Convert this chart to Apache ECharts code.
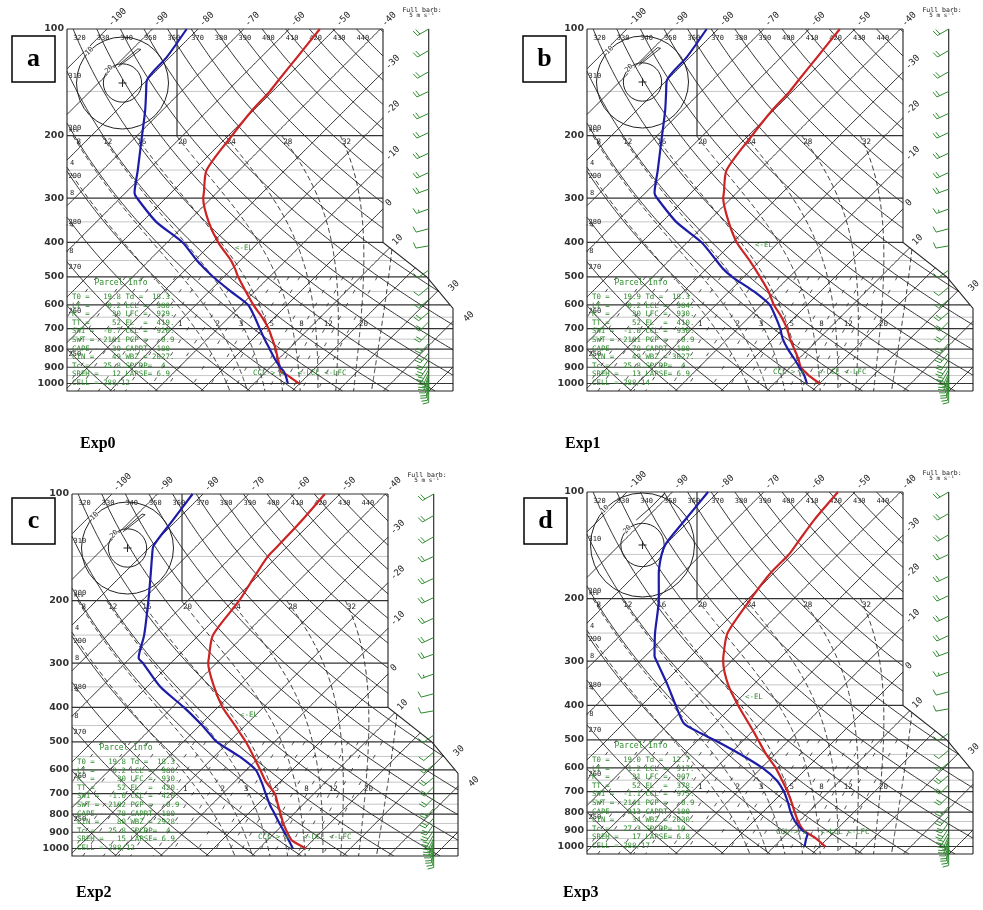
<!DOCTYPE html>
<html><head><meta charset="utf-8">
<script src="https://cdn.jsdelivr.net/npm/echarts@6.0.0/dist/echarts.min.js"></script>
<style>html,body{margin:0;padding:0;background:#fff}#chart{width:983px;height:910px}</style>
</head><body><div id="chart"></div>
<script>
// ---------------- DATA ----------------
const levels = [100,120,140,150,170,200,250,290,300,350,400,450,475,500,550,600,650,700,750,800,850,900,925,950,1000];
const tempA = [-53.3,-52.1,-51.1,-50.6,-50.3,-49.2,-47.2,-42.8,-41.8,-35.4,-28.8,-22.0,-19.3,-16.9,-12.0,-7.4,-2.8,1.1,4.3,7.2,9.7,12.1,13.2,15.7,19.8];
const dewA  = [-82.5,-80.7,-79.9,-77.7,-73.7,-68.9,-62.3,-58.0,-56.3,-46.9,-36.6,-29.5,-25.9,-22.4,-15.3,-8.6,-4.4,-0.8,2.6,5.9,9.0,12.2,13.9,15.2,17.4];
const tempB = [-53.3,-52.1,-51.1,-50.6,-50.3,-49.2,-47.2,-42.8,-41.8,-35.4,-29.1,-22.3,-19.3,-16.5,-11.4,-7.3,-2.9,0.8,3.8,6.9,9.8,12.3,14.1,15.9,20.0];
const dewB  = [-82.5,-80.7,-79.9,-77.7,-73.7,-68.9,-62.3,-58.0,-56.3,-46.9,-36.8,-29.6,-26.3,-22.6,-14.6,-8.2,-4.2,-0.7,2.2,5.5,8.9,12.0,13.5,14.9,17.2];
const tempC = [-53.3,-52.5,-52.2,-52.1,-50.7,-48.7,-46.9,-42.8,-41.8,-35.3,-28.9,-22.2,-19.2,-16.3,-11.4,-7.0,-3.0,1.4,4.4,7.2,9.8,12.6,14.0,15.5,20.3];
const dewC  = [-82.3,-80.8,-79.5,-77.5,-73.6,-68.6,-62.0,-58.2,-56.1,-47.1,-37.4,-29.4,-26.0,-22.7,-14.5,-8.0,-4.0,-0.6,2.6,5.9,9.0,12.0,13.4,14.8,17.4];
const tempD = [-53.7,-52.8,-51.4,-50.8,-50.7,-49.4,-47.0,-42.9,-41.8,-35.5,-28.8,-22.5,-19.6,-16.9,-11.9,-6.9,-2.8,0.9,4.1,7.0,9.8,12.9,15.2,17.5,21.2];
const dewD  = [-82.2,-81.1,-80.1,-78.7,-75.1,-69.6,-62.9,-58.0,-56.4,-48.8,-42.5,-36.7,-31.8,-26.6,-17.5,-9.8,-4.0,0.1,3.3,6.1,9.1,12.6,14.7,15.3,16.7];

const pressureTicks = [100,200,300,400,500,600,700,800,900,1000];
const isothermTopLabels = [-100,-90,-80,-70,-60,-50,-40];
const isothermSideLabels = [-30,-20,-10,0,10,30,40];
const thetaTopLabels = [320,330,340,350,360,370,380,390,400,410,420,430,440];
const thetaLeftLabels = [250,260,270,280,290,300,310];
const moistLabels = [8,12,16,20,24,28,32];
const mixLabels = [1,2,3,5,8,12,20];

const barbP   = [100,115,132,150,173,196,224,254,283,322,366,409,479,535,580,630,670,720,770,820,855,890,915,935,950,965,980,995,1010,1025,1040];
const barbDir = [240,240,240,245,245,245,245,245,250,250,255,260,235,230,230,230,225,225,220,220,215,215,210,205,200,200,195,190,190,185,180];
const barbSpd = [10,10,10,12,12,12,12,10,10,8,5,5,5,7,8,10,10,10,10,10,10,10,10,10,8,8,8,7,6,5,5];

const hodoUA = [-2.2,9.6,8.0,-1.5], hodoVA = [8.5,17.5,17.8,9.8];
const hodoUB = [-2.0,9.4,7.8,-1.3], hodoVB = [8.6,17.6,17.9,9.9];
const hodoUC = [-2.4,9.2,7.6,-1.7], hodoVC = [8.4,17.4,17.7,9.7];
const hodoUD = [-2.9,4.0,10.2,9.0], hodoVD = [11.5,17.5,23.9,22.0];

const parcelA = ["T0 =   19.8 Td =  18.3","LI =    0.2 LCL =  980.","K  =     30 LFC =  929.","TT =     52 EL  =  419.","SWI =  -0.7 CCL =  920.","SWT =  2181 PCP =   0.9","CAPE -   39 CAPRT- 180","CIN =    49 WBZ = 2027.","Tc =   25.8 SPCRP=  4.","SREH =   12 LAPSE= 6.9","CELL = 288/12"];
const parcelB = ["T0 =   19.9 Td =  18.3","LI =    0.2 LCL =  984.","K  =     30 LFC =  930.","TT =     52 EL  =  410.","SWI =  -1.0 CCL =  930.","SWT =  2181 PCP =   0.9","CAPE -   78 CAPRT- 180","CIN =    49 WBZ = 3027.","Tc =   25.8 SPCRP=  4.","SREH =   13 LAPSE= 6.9","CELL = 288/14"];
const parcelC = ["T0 =   19.8 Td =  18.3","LI =    0.2 LCL =  980.","K  =     30 LFC =  930.","TT =     52 EL  =  420.","SWI =  -1.0 CCL =  420.","SWT =  2182 PCP =   0.9","CAPE -   78 CAPRT- 180","CIN =    80 WBZ = 2928.","Tc =   25.8 SPCRP=  4.","SREH =   15 LAPSE= 6.9","CELL = 288/12"];
const parcelD = ["T0 =   19.0 Td =  12.7","LI =    1.2 LCL =  917.","K  =     31 LFC =  907.","TT =     52 EL  =  378.","SWI =  -1.1 CCL =  975.","SWT =  2141 PCP =   0.9","CAPE -  313 CAPRT- 180","CIN =    34 WBZ = 2030.","Tc =   27.3 SPCRP= 10.","SREH =   17 LAPSE= 6.8","CELL = 288/17"];

// ---------------- GEOMETRY ----------------
const PX_PER_C = 4.56, PX_PER_LN = 153.9;
const K = PX_PER_LN / PX_PER_C;
const W = 386, H = 362, X0 = 134;
const XMIN = -X0 / PX_PER_C, XMAX = (W - X0) / PX_PER_C;
const BOUND = [[316,0],[316,213.4],[360,248],[386,279.3],[386,362]];
const STAFF_X = (361.7 - X0) / PX_PER_C;
const GREEN = '#2f8a2f';
const MONO = '"DejaVu Sans Mono", monospace';

function skewX(T, p) { return T + K * Math.log(1050 / p); }
function toRel(X, p) { return [X0 + PX_PER_C * X, PX_PER_LN * Math.log(p / 100)]; }
function toData(rx, ry) { return [(rx - X0) / PX_PER_C, 100 * Math.exp(ry / PX_PER_LN)]; }
function boundAtY(ry) {
  if (ry <= BOUND[0][1]) return BOUND[0][0];
  for (let i = 0; i < BOUND.length - 1; i++) {
    const a = BOUND[i], b = BOUND[i + 1];
    if (ry <= b[1]) return a[0] + (b[0] - a[0]) * (ry - a[1]) / (b[1] - a[1]);
  }
  return BOUND[BOUND.length - 1][0];
}
function inside(r) { return r[0] >= -0.01 && r[1] >= -0.01 && r[1] <= H + 0.01 && r[0] <= boundAtY(r[1]) + 0.01; }
function edgePt(o, i) { let a = o, b = i; for (let k = 0; k < 22; k++) { const m = [(a[0]+b[0])/2, (a[1]+b[1])/2]; if (inside(m)) b = m; else a = m; } return b; }
function clipPolyline(pts) {
  const rel = pts.map(d => toRel(d[0], d[1]));
  const dense = [];
  for (let i = 0; i < rel.length - 1; i++) {
    const a = rel[i], b = rel[i + 1];
    const n = Math.max(1, Math.ceil(Math.hypot(b[0]-a[0], b[1]-a[1]) / 3));
    for (let k = 0; k < n; k++) dense.push([a[0] + (b[0]-a[0]) * k / n, a[1] + (b[1]-a[1]) * k / n]);
  }
  dense.push(rel[rel.length - 1]);
  const out = []; let cur = null;
  for (let i = 0; i < dense.length; i++) {
    const pt = dense[i];
    if (inside(pt)) {
      if (!cur) { cur = []; if (i > 0) cur.push(edgePt(dense[i-1], pt)); }
      cur.push(pt);
    } else if (cur) { cur.push(edgePt(pt, dense[i-1])); out.push(cur); cur = null; }
  }
  if (cur) out.push(cur);
  return out.filter(l => l.length > 1).map(l => l.map(r => toData(r[0], r[1])));
}
function rightX(p) { return (boundAtY(PX_PER_LN * Math.log(p / 100)) - X0) / PX_PER_C; }

// thermodynamics for the guide lines
function dryT(theta, p) { return theta * Math.pow(p / 1000, 0.2857) - 273.15; }
function dTdp(Tk, p) {
  const Rd = 287.04, cp = 1005.7, Lv = 2.501e6, eps = 0.622;
  const Tc = Tk - 273.15;
  const e = 6.112 * Math.exp(17.67 * Tc / (Tc + 243.5));
  const rs = eps * e / (p - e);
  return ((Rd * Tk + Lv * rs) / p) / (cp + Lv * Lv * rs * eps / (Rd * Tk * Tk));
}
function moistLine(tw) {
  let Td = tw + 273.15, pd = 1000;
  while (pd < 1050) { const dp = Math.min(5, 1050 - pd); Td += dTdp(Td, pd) * dp; pd += dp; }
  const pts = [[skewX(Td - 273.15, 1050), 1050]];
  let T = tw + 273.15, p = 1000;
  pts.push([skewX(T - 273.15, p), p]);
  while (p > 200) {
    const dp = -Math.min(4, p - 200);
    const k1 = dTdp(T, p), k2 = dTdp(T + k1 * dp, p + dp);
    T += 0.5 * (k1 + k2) * dp; p += dp;
    pts.push([skewX(T - 273.15, p), p]);
  }
  return pts;
}
function mixTd(w, p) { const e = w * p / (622 + w); const a = Math.log(e / 6.112); return 243.5 * a / (17.67 - a); }

// ---------------- GUIDE GEOMETRY (shared) ----------------
const isoLines = [], dryLines = [], moistLines = [], mixLines = [];
for (let T = -110; T <= 60; T += 10) clipPolyline([[skewX(T, 1050), 1050], [skewX(T, 100), 100]]).forEach(l => isoLines.push(l));
for (let th = 230; th <= 460; th += 10) {
  const pts = []; for (let p = 100; p <= 1050; p += 10) pts.push([skewX(dryT(th, p), p), p]);
  clipPolyline(pts).forEach(l => dryLines.push(l));
}
const moistEnds = {};
[4,8,12,16,20,24,28,32,36].forEach(tw => {
  const pts = moistLine(tw); moistEnds[tw] = pts[pts.length - 1];
  clipPolyline(pts.slice().reverse()).forEach(l => moistLines.push(l));
});
[0.1,0.2,0.3,0.4,0.6,0.8,1,1.5,2,3,4,5,6,8,10,12,14,16,20].forEach(w => {
  const pts = []; for (let p = 500; p <= 1050; p += 25) pts.push([skewX(mixTd(w, p), p), p]);
  clipPolyline(pts).forEach(l => mixLines.push(l));
});
const lightH = [], darkH = [];
for (let p = 150; p <= 950; p += 100) lightH.push([[XMIN, p], [rightX(p), p]]);
for (let p = 100; p <= 1000; p += 100) darkH.push([[XMIN, p], [rightX(p), p]]);
const frame = [
  [[XMIN, 100], [XMIN, 1050], [XMAX, 1050]],
  BOUND.map(b => toData(b[0], b[1])),
  [[toData(110, 0)[0], 100], [toData(110, 0)[0], 200]],
  [[STAFF_X, 100], [STAFF_X, 1050]]
];

// labels (rel pixel positions derived from the guide geometry)
function crossBoundary(c) {
  for (let i = 0; i < BOUND.length - 1; i++) {
    const a = BOUND[i], b = BOUND[i+1], ca = a[0]+a[1], cb = b[0]+b[1];
    if (c >= ca && c <= cb) { const t = (c - ca) / (cb - ca); return [a[0] + (b[0]-a[0]) * t, a[1] + (b[1]-a[1]) * t]; }
  }
  return null;
}
const baseLabels = [];
const SMALLB = 'bold 9.5px "DejaVu Sans"';
pressureTicks.forEach(p => { const r = toRel(XMIN, p); baseLabels.push({rx: -3, ry: r[1], text: String(p), align: 'right', font: SMALLB, color: '#333'}); });
isothermTopLabels.forEach(T => { const r = toRel(skewX(T, 100), 100); baseLabels.push({rx: r[0] + 3, ry: -4, text: String(T), rot: 45, font: '9px ' + MONO}); });
isothermSideLabels.forEach(T => {
  const r0 = toRel(skewX(T, 1050), 1050); const q = crossBoundary(r0[0] + r0[1]);
  const extra = T >= 30 ? 8 : 0;
  if (q) baseLabels.push({rx: q[0] + 4 + extra, ry: q[1] - 4 + extra * 0.4, text: String(T), rot: 45, font: '9px ' + MONO});
});
thetaTopLabels.forEach(th => { const r = toRel(skewX(dryT(th, 100), 100), 100); baseLabels.push({rx: Math.max(r[0], 1.5), ry: 9, text: String(th), font: '7px ' + MONO}); });
thetaLeftLabels.forEach(th => {
  let lo = 100, hi = 1050;
  for (let k = 0; k < 40; k++) { const m = Math.sqrt(lo * hi); if (skewX(dryT(th, m), m) < XMIN) lo = m; else hi = m; }
  const r = toRel(XMIN, hi); baseLabels.push({rx: 1.5, ry: r[1] + 5, text: String(th), font: '7px ' + MONO});
});
moistLabels.forEach(tw => { const e = moistEnds[tw]; const r = toRel(e[0], e[1]); baseLabels.push({rx: r[0] + 6, ry: r[1] + 6, text: String(tw), align: 'center', font: '7.5px ' + MONO}); });
mixLabels.forEach(w => { const r = toRel(skewX(mixTd(w, 700), 700), 700); baseLabels.push({rx: r[0] + 14, ry: r[1] - 5, text: String(w), align: 'center', font: '7.5px ' + MONO}); });
[['4', 134], ['8', 164], ['-4', 196], ['-8', 222]].forEach(s => baseLabels.push({rx: s[0].length > 1 ? -2 : 3, ry: s[1], text: s[0], font: '7px ' + MONO}));
baseLabels.push({rx: 2, ry: 102, text: 'kts', font: '5.5px ' + MONO});

// ---------------- PANELS ----------------
const panels = [
  {left: 67,  top: 29,  T: tempA, Td: dewA, hu: hodoUA, hv: hodoVA, hr: 46, hcy: 54,   parcel: parcelA, el: [168, 219], ccl: [186, 344], box: [12, 36], letter: 'a', exp: 'Exp0', expPos: [80, 444]},
  {left: 587, top: 29,  T: tempB, Td: dewB, hu: hodoUB, hv: hodoVB, hr: 46, hcy: 53,   parcel: parcelB, el: [168, 216], ccl: [186, 343], box: [523, 36], letter: 'b', exp: 'Exp1', expPos: [565, 444]},
  {left: 72,  top: 494, T: tempC, Td: dewC, hu: hodoUC, hv: hodoVC, hr: 46, hcy: 54,   parcel: parcelC, el: [168, 221], ccl: [186, 343], box: [12, 498], letter: 'c', exp: 'Exp2', expPos: [76, 893]},
  {left: 587, top: 492, T: tempD, Td: dewD, hu: hodoUD, hv: hodoVD, hr: 52, hcy: 53,   parcel: parcelD, el: [158, 205], ccl: [189, 340], box: [524, 498], letter: 'd', exp: 'Exp3', expPos: [563, 893]}
];

const option = {animation: false, backgroundColor: '#fff', grid: [], xAxis: [], yAxis: [], series: [], graphic: []};
function linesSeries(gi, polys, style, z, clip) {
  return {type: 'lines', coordinateSystem: 'cartesian2d', xAxisIndex: gi, yAxisIndex: gi, polyline: true, silent: true, z,
    clip: clip !== false, lineStyle: Object.assign({opacity: 1}, style), data: polys.map(c => ({coords: c}))};
}

panels.forEach((P) => {
  const gi = option.grid.length;
  option.grid.push({left: P.left, top: P.top, width: W, height: H, show: false});
  option.xAxis.push({type: 'value', gridIndex: gi, min: XMIN, max: XMAX, show: false});
  option.yAxis.push({type: 'log', logBase: 10, gridIndex: gi, min: 100, max: 1050, inverse: true, show: false});
  const hi = gi + 1;
  option.grid.push({left: P.left + 55.5 - P.hr, top: P.top + P.hcy - P.hr, width: 2 * P.hr, height: 2 * P.hr, show: false});
  option.xAxis.push({type: 'value', gridIndex: hi, min: -24, max: 24, show: false});
  option.yAxis.push({type: 'value', gridIndex: hi, min: -24, max: 24, show: false});

  option.series.push(linesSeries(gi, lightH, {color: '#c6c6c6', width: 1}, 1));
  option.series.push(linesSeries(gi, isoLines, {color: '#1a1a1a', width: 0.9}, 2));
  option.series.push(linesSeries(gi, dryLines, {color: '#1a1a1a', width: 0.9}, 2));
  option.series.push(linesSeries(gi, moistLines, {color: '#222', width: 0.9, type: [5, 3]}, 2));
  option.series.push(linesSeries(gi, mixLines, {color: '#333', width: 0.9, type: [4, 11]}, 2));
  option.series.push(linesSeries(gi, darkH, {color: '#333', width: 1.2}, 3, false));
  option.series.push(linesSeries(gi, frame, {color: '#222', width: 1.1}, 4, false));

  option.series.push({type: 'custom', xAxisIndex: gi, yAxisIndex: gi, z: 6, silent: true, clip: false,
    data: baseLabels.map(l => toData(l.rx, l.ry)),
    renderItem(params, api) {
      const l = baseLabels[params.dataIndex];
      const c = api.coord(toData(l.rx, l.ry));
      return {type: 'text', x: c[0], y: c[1], rotation: (l.rot || 0) * Math.PI / 180,
        style: {text: l.text, font: l.font, fill: l.color || '#222', align: l.align || 'left', verticalAlign: 'middle'}};
    }});

  option.series.push({type: 'line', xAxisIndex: gi, yAxisIndex: gi, z: 8, symbol: 'none', silent: true, smooth: 0.25,
    lineStyle: {color: '#cc2424', width: 2.2}, data: levels.map((p, k) => [skewX(P.T[k], p), p])});
  option.series.push({type: 'line', xAxisIndex: gi, yAxisIndex: gi, z: 8, symbol: 'none', silent: true, smooth: 0.25,
    lineStyle: {color: '#1c1ca8', width: 2.2}, data: levels.map((p, k) => [skewX(P.Td[k], p), p])});

  option.series.push({type: 'custom', xAxisIndex: gi, yAxisIndex: gi, z: 7, silent: true, clip: false,
    data: barbP.map(p => [STAFF_X, p]),
    renderItem(params, api) {
      const i = params.dataIndex;
      const base = api.coord([STAFF_X, barbP[i]]);
      const d = barbDir[i] * Math.PI / 180, L = 13;
      const ux = Math.sin(d), uy = -Math.cos(d);
      const tip = [base[0] + ux * L, base[1] + uy * L];
      const st = {stroke: GREEN, lineWidth: 1};
      const ch = [{type: 'line', shape: {x1: base[0], y1: base[1], x2: tip[0], y2: tip[1]}, style: st}];
      const px = -uy, py = ux;
      let n = Math.floor(barbSpd[i] / 5); const half = (barbSpd[i] % 5) >= 2.5;
      let pos = 0;
      for (let k = 0; k < n; k++) {
        const bx = tip[0] - ux * pos, by = tip[1] - uy * pos;
        ch.push({type: 'line', shape: {x1: bx, y1: by, x2: bx + px * 6 + ux * 1.5, y2: by + py * 6 + uy * 1.5}, style: st});
        pos += 3;
      }
      if (half) { const bx = tip[0] - ux * pos, by = tip[1] - uy * pos; ch.push({type: 'line', shape: {x1: bx, y1: by, x2: bx + px * 3, y2: by + py * 3}, style: st}); }
      return {type: 'group', children: ch};
    }});

  option.series.push({type: 'custom', xAxisIndex: hi, yAxisIndex: hi, z: 6, silent: true, clip: false,
    data: [[0, 0]],
    renderItem(params, api) {
      const c = api.coord([0, 0]);
      const r1 = api.size([24, 0])[0], r2 = api.size([10, 0])[0];
      const st = {fill: null, stroke: '#222', lineWidth: 1};
      const lab1 = api.coord([-24 * 0.72, 24 * 0.69]), lab2 = api.coord([-10 * 0.7, 10 * 0.72]);
      return {type: 'group', children: [
        {type: 'circle', shape: {cx: c[0], cy: c[1], r: r1}, style: st},
        {type: 'circle', shape: {cx: c[0], cy: c[1], r: r2}, style: st},
        {type: 'line', shape: {x1: c[0] - 4, y1: c[1], x2: c[0] + 4, y2: c[1]}, style: st},
        {type: 'line', shape: {x1: c[0], y1: c[1] - 4, x2: c[0], y2: c[1] + 4}, style: st},
        {type: 'text', x: lab1[0], y: lab1[1], rotation: Math.PI / 4, style: {text: '10', font: '7px ' + MONO, fill: '#222', align: 'center', verticalAlign: 'middle', backgroundColor: '#fff'}},
        {type: 'text', x: lab2[0], y: lab2[1], rotation: Math.PI / 4, style: {text: '20', font: '7px ' + MONO, fill: '#222', align: 'center', verticalAlign: 'middle', backgroundColor: '#fff'}}
      ]};
    }});
  option.series.push({type: 'line', xAxisIndex: hi, yAxisIndex: hi, z: 7, silent: true, symbol: 'none',
    lineStyle: {color: '#222', width: 0.9}, data: P.hu.map((u, k) => [u, P.hv[k]])});

  option.graphic.push({type: 'rect', shape: {x: P.box[0], y: P.box[1], width: 43, height: 46}, style: {fill: '#fff', stroke: '#000', lineWidth: 1.5}, z: 100});
  option.graphic.push({type: 'text', x: P.box[0] + 21.5, y: P.box[1] + 23, style: {text: P.letter, font: 'bold 26px "Liberation Serif"', fill: '#000', align: 'center', verticalAlign: 'middle'}, z: 101});
  option.graphic.push({type: 'text', x: P.expPos[0], y: P.expPos[1], style: {text: P.exp, font: 'bold 16px "Liberation Serif"', fill: '#000', align: 'left', verticalAlign: 'middle'}, z: 101});
  option.graphic.push({type: 'text', x: P.left + 355, y: P.top - 19, style: {text: 'Full barb:', font: '6.5px ' + MONO, fill: '#222', align: 'center', verticalAlign: 'middle'}, z: 101});
  option.graphic.push({type: 'text', x: P.left + 355, y: P.top - 14, style: {text: '5 m s\u207B\u00B9', font: '6px ' + MONO, fill: '#222', align: 'center', verticalAlign: 'middle'}, z: 101});
  option.graphic.push({type: 'text', x: P.left + 54, y: P.top + 254, style: {text: 'Parcel Info', font: '8px ' + MONO, fill: GREEN, align: 'center', verticalAlign: 'middle'}, z: 101});
  P.parcel.forEach((s, k) => option.graphic.push({type: 'text', x: P.left + 5, y: P.top + 268 + 8.6 * k, style: {text: s, font: '7.4px ' + MONO, fill: GREEN, align: 'left', verticalAlign: 'middle'}, z: 101}));
  option.graphic.push({type: 'text', x: P.left + P.el[0], y: P.top + P.el[1], style: {text: '<-EL', font: '7.4px ' + MONO, fill: GREEN, verticalAlign: 'middle'}, z: 101});
  option.graphic.push({type: 'text', x: P.left + P.ccl[0], y: P.top + P.ccl[1], style: {text: 'CCL-> x   <-LCL <-LFC', font: '7.4px ' + MONO, fill: GREEN, verticalAlign: 'middle'}, z: 101});
});

const chart = echarts.init(document.getElementById('chart'), null, {renderer: 'canvas'});
chart.setOption(option);
</script></body></html>
